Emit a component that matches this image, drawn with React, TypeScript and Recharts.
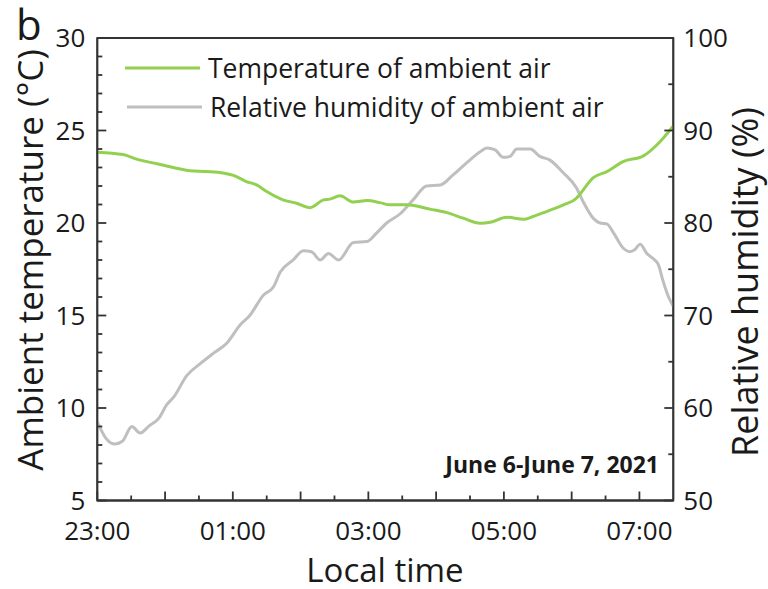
import React from 'react';
import { LineChart, Line, XAxis, YAxis, ReferenceArea } from 'recharts';

// hours after 23:00
const tempHours = [0, 0.38, 0.58, 0.88, 1.12, 1.37, 1.61, 1.86, 2.01, 2.2, 2.35, 2.5, 2.74, 2.94, 3.14, 3.34, 3.43, 3.58, 3.78, 3.98, 4.17, 4.32, 4.57, 4.91, 5.16, 5.4, 5.65, 5.8, 6.04, 6.29, 6.43, 6.63, 6.88, 7.07, 7.12, 7.32, 7.52, 7.76, 8.06, 8.26, 8.5];
const tempValues = [23.83, 23.7, 23.45, 23.2, 23.0, 22.82, 22.78, 22.7, 22.57, 22.24, 22.06, 21.7, 21.25, 21.07, 20.83, 21.25, 21.29, 21.47, 21.13, 21.21, 21.1, 20.98, 20.98, 20.75, 20.56, 20.26, 19.99, 20.04, 20.31, 20.2, 20.35, 20.62, 20.98, 21.34, 21.55, 22.45, 22.78, 23.32, 23.63, 24.23, 25.25];

const humHours = [0, 0.12, 0.26, 0.37, 0.51, 0.63, 0.77, 0.91, 1.02, 1.13, 1.32, 1.52, 1.71, 1.91, 2.11, 2.25, 2.45, 2.6, 2.7, 2.89, 3.04, 3.16, 3.29, 3.41, 3.56, 3.78, 3.98, 4.12, 4.27, 4.47, 4.66, 4.86, 5.06, 5.25, 5.45, 5.65, 5.75, 5.87, 5.99, 6.09, 6.19, 6.39, 6.53, 6.68, 6.88, 7.07, 7.17, 7.32, 7.42, 7.52, 7.62, 7.76, 7.86, 7.93, 8.01, 8.11, 8.21, 8.28, 8.35, 8.43, 8.5];
const humValues = [58.5, 56.8, 56.1, 56.4, 58.0, 57.3, 58.1, 58.9, 60.3, 61.2, 63.5, 64.8, 65.9, 67.0, 69.0, 70.0, 72.2, 73.1, 74.7, 76.0, 77.0, 76.9, 76.0, 76.7, 76.0, 77.9, 78.0, 78.9, 80.0, 81.0, 82.5, 84.0, 84.1, 85.2, 86.5, 87.7, 88.1, 87.9, 87.1, 87.2, 88.0, 88.0, 87.2, 86.8, 85.4, 83.8, 82.3, 80.5, 80.0, 79.9, 78.9, 77.3, 76.9, 77.1, 77.7, 76.7, 76.1, 75.5, 73.7, 72.0, 71.0];

const xTicks = [0, 0.5, 1, 1.5, 2, 2.5, 3, 3.5, 4, 4.5, 5, 5.5, 6, 6.5, 7, 7.5, 8];
const xLabelHours = [0, 2, 4, 6, 8];
const xLabels = ['23:00', '01:00', '03:00', '05:00', '07:00'];
const tempTicks = [5, 6, 7, 8, 9, 10, 11, 12, 13, 14, 15, 16, 17, 18, 19, 20, 21, 22, 23, 24, 25, 26, 27, 28, 29, 30];
const humTicks = [50, 55, 60, 65, 70, 75, 80, 85, 90, 95, 100];

const tempData = tempHours.map((h, i) => ({ h, t: tempValues[i] }));
const humData = humHours.map((h, i) => ({ h, rh: humValues[i] }));

const FONT = "'Open Sans', sans-serif";
const AXIS = '#333';
const TEXT = '#1a1a1a';
const GREEN = '#92d050';
const GRAY = '#bfbfbf';

const XTick = (props: any) => {
    const { x, y, payload } = props;
    const v = payload.value;
    const idx = xLabelHours.indexOf(v);
    return (
        <g>
            <line x1={x} x2={x} y1={y} y2={y - (Number.isInteger(v) ? 9 : 5)} stroke={AXIS} strokeWidth={1.8} />
            {idx >= 0 && (
                <text x={x} y={y + 39} textAnchor="middle" fontSize={26} fontFamily={FONT} fill={TEXT}>{xLabels[idx]}</text>
            )}
        </g>
    );
};

const LeftTick = (props: any) => {
    const { x, y, payload } = props;
    const major = payload.value % 5 === 0;
    return (
        <g>
            <line x1={x} x2={x + (major ? 9 : 5)} y1={y} y2={y} stroke={AXIS} strokeWidth={1.8} />
            {major && (
                <text x={x - 12} y={y + 9} textAnchor="end" fontSize={26} fontFamily={FONT} fill={TEXT}>{payload.value}</text>
            )}
        </g>
    );
};

const RightTick = (props: any) => {
    const { x, y, payload } = props;
    const major = payload.value % 10 === 0;
    return (
        <g>
            <line x1={x} x2={x - (major ? 9 : 5)} y1={y} y2={y} stroke={AXIS} strokeWidth={1.8} />
            {major && (
                <text x={x + 10} y={y + 9} textAnchor="start" fontSize={26} fontFamily={FONT} fill={TEXT}>{payload.value}</text>
            )}
        </g>
    );
};

export default function App() {
    return (
        <div style={{ position: 'absolute', left: 0, top: 0, width: 768, height: 589, background: '#fff' }}>
            <LineChart width={768} height={589} margin={{ top: 38, right: 0, bottom: 0, left: 0 }}>
                <XAxis dataKey="h" type="number" domain={[0, 8.5]} ticks={xTicks} interval={0}
                    height={88.5} tickSize={0} tickMargin={0} tickLine={false}
                    axisLine={{ stroke: AXIS, strokeWidth: 1.8 }} tick={<XTick />} allowDataOverflow />
                <YAxis yAxisId="left" domain={[5, 30]} ticks={tempTicks} interval={0} width={97.3}
                    tickSize={0} tickMargin={0} tickLine={false}
                    axisLine={{ stroke: AXIS, strokeWidth: 1.8 }} tick={<LeftTick />} allowDataOverflow />
                <YAxis yAxisId="right" orientation="right" domain={[50, 100]} ticks={humTicks} interval={0} width={94.7}
                    tickSize={0} tickMargin={0} tickLine={false}
                    axisLine={{ stroke: AXIS, strokeWidth: 1.8 }} tick={<RightTick />} allowDataOverflow />
                <ReferenceArea yAxisId="left" x1={0} x2={8.5} y1={5} y2={30} fill="none" stroke={AXIS} strokeWidth={1.8} />
                <Line data={humData} dataKey="rh" yAxisId="right" name="Relative humidity of ambient air"
                    stroke={GRAY} strokeWidth={3} dot={false} type="monotone" isAnimationActive={false} />
                <Line data={tempData} dataKey="t" yAxisId="left" name="Temperature of ambient air"
                    stroke={GREEN} strokeWidth={3} dot={false} type="monotone" isAnimationActive={false} />
            </LineChart>
            <svg width={768} height={589} style={{ position: 'absolute', left: 0, top: 0, pointerEvents: 'none' }}>
                <text x={16} y={40} fontSize={42} fontFamily={FONT} fill={TEXT}>b</text>
                <text transform="translate(43,260) rotate(-90)" textAnchor="middle" fontSize={35} fontFamily={FONT} fill={TEXT}>Ambient temperature (°C)</text>
                <text transform="translate(758,282) rotate(-90)" textAnchor="middle" fontSize={36} fontFamily={FONT} fill={TEXT}>Relative humidity (%)</text>
                <text x={385} y={582} textAnchor="middle" fontSize={33} fontFamily={FONT} fill={TEXT}>Local time</text>
                <text x={659} y={473} textAnchor="end" fontSize={23} fontWeight="bold" fontFamily={FONT} fill={TEXT}>June 6-June 7, 2021</text>
                <line x1={125} x2={200} y1={68} y2={68} stroke={GREEN} strokeWidth={3} />
                <text x={208} y={78} fontSize={26.5} fontFamily={FONT} fill={TEXT}>Temperature of ambient air</text>
                <line x1={127} x2={202} y1={107} y2={107} stroke={GRAY} strokeWidth={3} />
                <text x={210} y={117} fontSize={26.5} fontFamily={FONT} fill={TEXT}>Relative humidity of ambient air</text>
            </svg>
        </div>
    );
}
